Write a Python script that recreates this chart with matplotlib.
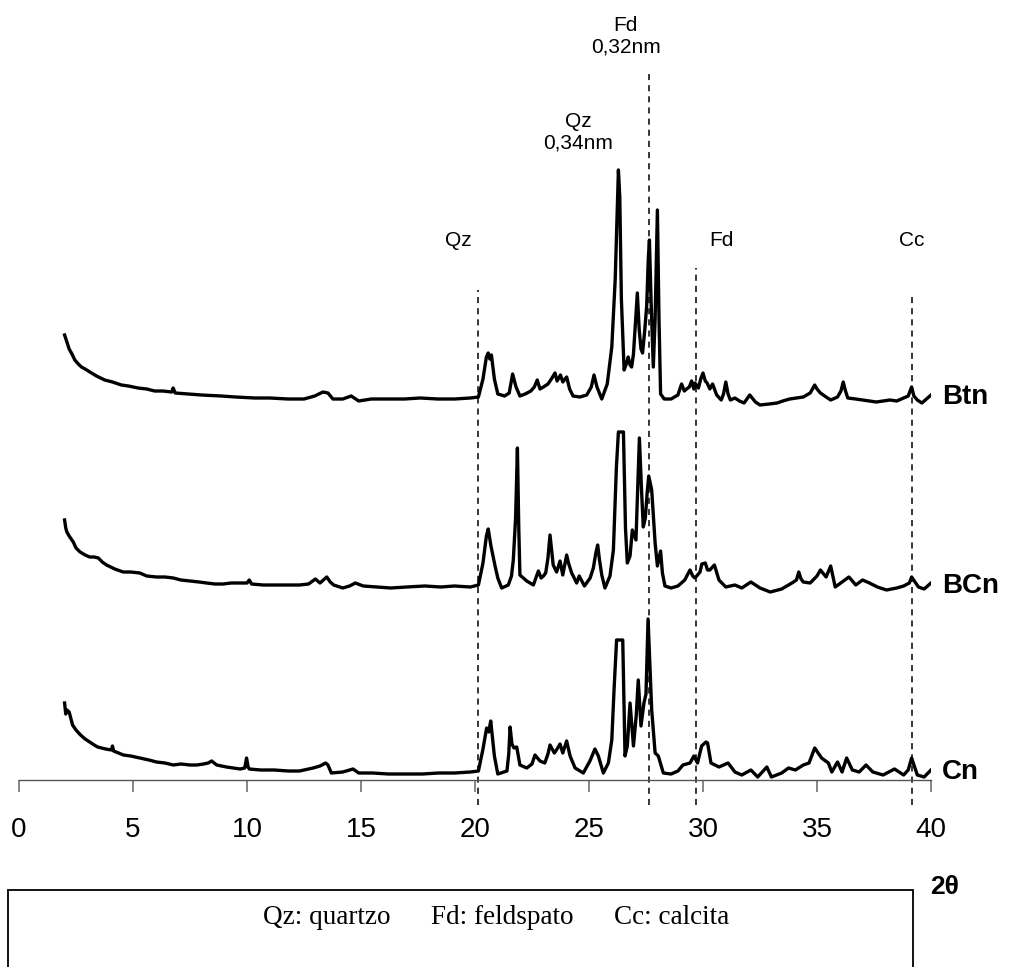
import numpy as np
import matplotlib
matplotlib.use("Agg")
import matplotlib.pyplot as plt
from matplotlib.patches import Rectangle

plt.rcParams['font.family'] = ['Liberation Sans', 'DejaVu Sans']

# --- data (2theta, relative intensity) ---
btn_2t = [2.0, 2.1, 2.2, 2.3, 2.45, 2.6, 2.74, 2.9, 3.18, 3.4, 3.76, 4.1, 4.49, 4.8, 5.22, 5.6, 5.95, 6.3,
          6.7, 6.76, 6.85, 7.41, 8.0, 8.87, 9.5, 10.33, 11.0, 11.8, 12.5, 12.97, 13.33, 13.55, 13.77, 14.2,
          14.57, 14.9, 15.45, 16.2, 16.9, 17.6, 18.37, 19.1, 19.8, 20.15,
          20.35, 20.5, 20.58, 20.65, 20.72, 20.85, 21.0, 21.3, 21.5, 21.65, 21.8, 21.97, 22.2, 22.45, 22.6,
          22.73, 22.85, 23.0, 23.2, 23.35, 23.51, 23.6, 23.75, 23.85, 24.02, 24.15, 24.3, 24.6, 24.9, 25.1,
          25.22, 25.35, 25.56, 25.8, 26.0, 26.15, 26.29, 26.35, 26.42, 26.54, 26.65, 26.72, 26.8, 26.87,
          26.95, 27.05, 27.12, 27.2, 27.28, 27.35, 27.45, 27.53, 27.6, 27.65, 27.72, 27.82, 27.9, 28.0,
          28.07, 28.14, 28.3, 28.6, 28.9, 29.06, 29.18, 29.28, 29.4, 29.5, 29.6, 29.65, 29.8, 29.9, 30.0,
          30.1, 30.18, 30.3, 30.42, 30.6, 30.8, 30.9, 31.0, 31.1, 31.2, 31.4, 31.6, 31.8, 32.05, 32.3, 32.5,
          32.9, 33.25, 33.5, 33.8, 34.1, 34.4, 34.7, 34.9, 35.0, 35.15, 35.4, 35.6, 35.9, 36.05, 36.15,
          36.25, 36.35, 36.7, 37.0, 37.3, 37.6, 37.9, 38.2, 38.5, 38.8, 39.0, 39.15, 39.25, 39.4, 39.6,
          39.8, 40.0]
btn_i = [64, 57, 50, 46, 39, 35, 32, 30, 26, 23, 19, 17, 14, 13, 11, 10, 8, 8,
         7, 11, 6, 5, 4, 3, 2, 1, 1, 0, 0, 3, 7, 6, 0, 0,
         3, -2, 0, 0, 0, 1, 0, 0, 1, 2,
         20, 42, 46, 40, 44, 20, 5, 3, 6, 25, 12, 3, 5, 8, 12,
         19, 10, 12, 15, 20, 26, 18, 24, 17, 22, 10, 3, 2, 4, 12,
         24, 12, 0, 15, 52, 120, 229, 202, 100, 29, 36, 42, 34, 32,
         45, 80, 106, 70, 50, 46, 70, 93, 140, 159, 100, 32, 80, 189,
         80, 5, 0, 0, 4, 15, 8, 10, 12, 18, 10, 16, 11, 20, 26,
         18, 16, 10, 15, 4, -1, 5, 17, 5, -1, 1, -2, -4, 4, -3, -6,
         -5, -4, -2, 0, 1, 2, 6, 14, 10, 6, 2, -1, 2, 8, 17,
         8, 1, 0, -1, -2, -3, -2, -1, -2, 1, 3, 12, 3, -1, -4,
         0, 4]

bcn_2t = [2.0, 2.05, 2.1, 2.2, 2.38, 2.5, 2.68, 2.9, 3.1, 3.3, 3.48, 3.65, 3.84, 4.2, 4.57, 4.9, 5.3, 5.6,
          6.03, 6.4, 6.77, 7.1, 7.5, 7.9, 8.23, 8.6, 8.96, 9.3, 9.7, 10.0, 10.1, 10.2, 10.7, 11.2, 11.8,
          12.3, 12.7, 13.0, 13.2, 13.5, 13.65, 13.8, 14.2, 14.5, 14.75, 15.1, 15.7, 16.3, 17.0, 17.8,
          18.5, 19.1, 19.8, 20.15,
          20.35, 20.5, 20.58, 20.7, 20.88, 21.0, 21.17, 21.46, 21.6, 21.68, 21.78, 21.86, 21.92, 21.97,
          22.27, 22.56, 22.78, 22.9, 23.0, 23.1, 23.2, 23.29, 23.43, 23.58, 23.73, 23.85, 23.95, 24.02,
          24.1, 24.24, 24.46, 24.57, 24.8, 25.05, 25.19, 25.3, 25.38, 25.46, 25.56, 25.7, 25.92, 26.07,
          26.2, 26.29, 26.51, 26.6, 26.68, 26.8, 26.9, 27.06, 27.15, 27.21, 27.3, 27.38, 27.47, 27.55,
          27.62, 27.75, 27.9, 28.0, 28.14, 28.22, 28.33, 28.6, 28.9, 29.2, 29.43, 29.55, 29.65, 29.87,
          29.95, 30.1, 30.2, 30.3, 30.5, 30.7, 31.0, 31.4, 31.7, 32.1, 32.5, 32.95, 33.45, 33.9, 34.1,
          34.2, 34.3, 34.4, 34.7, 35.0, 35.15, 35.4, 35.6, 35.8, 36.1, 36.4, 36.7, 37.0, 37.3, 37.65,
          38.05, 38.5, 38.8, 39.05, 39.15, 39.3, 39.45, 39.7, 40.0]
bcn_i = [68, 60, 56, 52, 46, 40, 36, 33, 31, 31, 30, 26, 23, 19, 16, 16, 15, 12,
         11, 11, 10, 8, 7, 6, 5, 4, 4, 5, 5, 5, 8, 4, 3, 3, 3,
         3, 4, 9, 5, 11, 6, 3, 0, 2, 5, 2, 1, 0, 1, 2,
         1, 2, 1, 3,
         25, 52, 59, 42, 22, 10, 0, 3, 12, 28, 70, 140, 60, 13,
         7, 3, 17, 10, 12, 15, 30, 53, 23, 16, 27, 13, 25, 33,
         25, 15, 5, 12, 2, 10, 20, 35, 43, 28, 13, 0, 12, 38,
         120, 156, 156, 60, 25, 32, 58, 48, 110, 150, 100, 61, 70, 95,
         112, 98, 45, 22, 37, 15, 2, 0, 2, 8, 18, 12, 10, 16,
         24, 25, 18, 18, 23, 8, 1, 3, 0, 6, 0, -4, -1, 5, 8,
         16, 9, 6, 5, 12, 18, 11, 22, 1, 6, 11, 3, 8, 5, 1,
         -2, 0, 2, 5, 11, 6, 1, -1, 5]

cn_2t = [2.0, 2.05, 2.1, 2.2, 2.35, 2.5, 2.7, 2.9, 3.1, 3.3, 3.45, 3.8, 4.05, 4.1, 4.15, 4.58, 4.9, 5.3,
         5.7, 6.03, 6.4, 6.77, 7.1, 7.5, 7.8, 8.09, 8.3, 8.45, 8.67, 9.1, 9.4, 9.7, 9.9, 9.98, 10.05, 10.1,
         10.6, 11.2, 11.8, 12.3, 12.9, 13.2, 13.45, 13.55, 13.7, 14.2, 14.65, 14.9, 15.5, 16.2, 17.0,
         17.7, 18.4, 19.1, 19.8, 20.15,
         20.35, 20.51, 20.6, 20.69, 20.85, 21.0, 21.4, 21.48, 21.54, 21.62, 21.71, 21.83, 21.97, 22.27,
         22.5, 22.63, 22.85, 23.06, 23.2, 23.29, 23.48, 23.6, 23.73, 23.85, 24.02, 24.17, 24.39, 24.75,
         25.04, 25.26, 25.41, 25.63, 25.85, 26.0, 26.1, 26.21, 26.48, 26.58, 26.68, 26.8, 26.95, 27.07,
         27.16, 27.28, 27.41, 27.5, 27.59, 27.75, 27.9, 28.04, 28.26, 28.6, 28.9, 29.12, 29.43, 29.6,
         29.76, 29.94, 30.13, 30.2, 30.35, 30.7, 31.1, 31.4, 31.7, 32.1, 32.4, 32.8, 33.0, 33.45, 33.75,
         34.05, 34.4, 34.65, 34.9, 35.2, 35.5, 35.65, 35.9, 36.1, 36.3, 36.55, 36.85, 37.15, 37.45,
         37.9, 38.4, 38.8, 39.0, 39.15, 39.4, 39.7, 40.0]
cn_i = [71, 60, 64, 62, 49, 44, 39, 35, 32, 29, 27, 25, 24, 28, 23, 19, 18, 16,
        14, 12, 11, 9, 10, 9, 9, 10, 11, 13, 9, 7, 6, 5, 6, 16, 7, 5,
        4, 4, 3, 3, 6, 8, 11, 9, 1, 2, 5, 1, 1, 0, 0,
        0, 1, 1, 2, 3,
        25, 46, 42, 53, 18, 0, 3, 20, 47, 30, 26, 27, 9, 6,
        10, 19, 13, 11, 20, 29, 21, 25, 30, 21, 33, 18, 6, 1,
        13, 25, 18, 1, 11, 34, 85, 134, 134, 18, 28, 71, 28, 58,
        94, 48, 71, 80, 155, 64, 21, 18, 1, 0, 3, 9, 11, 18,
        11, 28, 32, 31, 11, 7, 11, 2, -1, 4, -3, 7, -3, 1, 6,
        4, 9, 11, 26, 16, 11, 2, 12, 2, 16, 4, 2, 9, 2,
        -1, 5, -1, 4, 16, -1, -3, 4]

samples = ["Btn", "BCn", "Cn"]
offsets = [381, 192, 6]

# reference lines: position, top of the dashed line
ref_pos = [20.15, 27.62, 29.68, 39.17]
ref_top = [490, 706, 512, 488]

fig = plt.figure(figsize=(10.31, 9.67), dpi=100)
ax = fig.add_axes([19 / 1031, 0, 912 / 1031, 1])
ax.set_xlim(0, 40)
ax.set_ylim(-187, 780)

for x2t, inten, off in zip([btn_2t, bcn_2t, cn_2t], [btn_i, bcn_i, cn_i], offsets):
    ax.plot(x2t, np.array(inten) + off, color="black", lw=2.4, solid_joinstyle="round")

for xp, top in zip(ref_pos, ref_top):
    ax.plot([xp, xp], [-25, top], color="black", lw=1.1, dashes=(4, 3.3), clip_on=False)

# phase labels
ax.text(19.25, 540, "Qz", ha="center", va="center", fontsize=15)
ax.text(30.83, 540, "Fd", ha="center", va="center", fontsize=15)
ax.text(39.17, 540, "Cc", ha="center", va="center", fontsize=15)
ax.text(24.53, 648, "Qz\n0,34nm", ha="center", va="center", fontsize=15, linespacing=1.15)
ax.text(26.61, 744, "Fd\n0,32nm", ha="center", va="center", fontsize=15, linespacing=1.15)

for name, off in zip(samples, offsets):
    ax.text(40.48, off + 2, name, ha="left", va="center", fontsize=20, fontweight="bold")

ax.text(40.61, -107, "2θ", ha="center", va="center", fontsize=19, fontweight="bold")

for s in ["left", "right", "top"]:
    ax.spines[s].set_visible(False)
ax.spines["bottom"].set_position(("data", 0))
ax.spines["bottom"].set_color("#555555")
ax.spines["bottom"].set_linewidth(1.0)
ax.set_yticks([])
ax.set_xticks(range(0, 41, 5))
ax.tick_params(axis="x", direction="out", length=8.6, width=1.1, color="#666666",
               labelsize=20, pad=18)

# legend box at the bottom
fig.patches.append(Rectangle((8 / 1031, -0.05), 905 / 1031, 0.05 + 77 / 967,
                             transform=fig.transFigure, fill=False, edgecolor="black", lw=1.3))
fig.text(496 / 1031, 49 / 967, "Qz: quartzo      Fd: feldspato      Cc: calcita",
         ha="center", va="center", fontsize=19.5, family="Liberation Serif")

fig.savefig("out.png", dpi=100)
